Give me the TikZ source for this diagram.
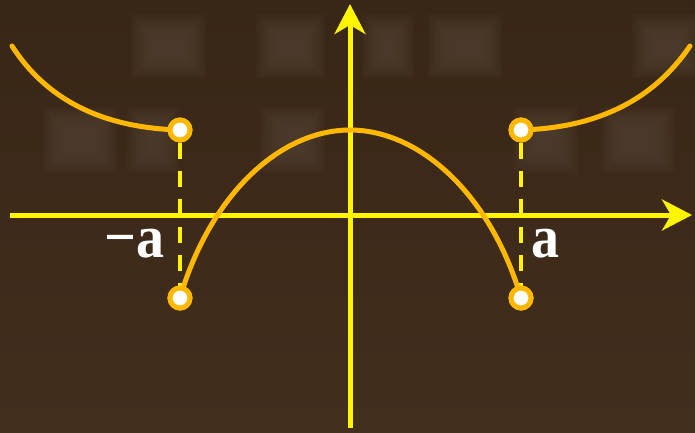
\documentclass[tikz,border=0pt]{standalone}
\usepackage{fontspec}
\setmainfont{Liberation Serif}
\usetikzlibrary{arrows.meta}

\definecolor{bgtop}{RGB}{56,38,22}
\definecolor{bgbot}{RGB}{66,46,29}
\definecolor{blobcol}{RGB}{86,70,56}
\definecolor{axiscol}{RGB}{255,245,0}
\definecolor{curvecol}{RGB}{255,184,0}

\tikzset{
  axis/.style={line width=5pt, color=axiscol, -{Stealth[length=30pt,width=31pt,inset=9pt]}},
  guide/.style={line width=3.5pt, color=axiscol, dash pattern=on 16pt off 12pt},
  curve/.style={line width=5pt, color=curvecol, line cap=round},
  hole/.style={circle, draw=curvecol, fill=white, line width=5pt, minimum size=20pt, inner sep=0pt},
  ticklabel/.style={text=white, font=\fontsize{56}{56}\selectfont\bfseries, inner sep=0pt, yscale=1.08},
}

\begin{document}
\begin{tikzpicture}[x=1pt,y=1pt]
        % background
        \shade[top color=bgtop, bottom color=bgbot] (-350,-217) rectangle (345,215);
        \useasboundingbox (-350,-217) rectangle (345,215);

        % blurred squares behind
        \foreach \xa/\ya/\xb/\yb in {-213/143/-150/195, -88/143/-31/195, 18/143/58/195,
                84/143/146/195, 288/143/345/195, -301/48/-239/102, -217/48/-177/102,
                -84/48/-31/102, 169/48/222/102, 257/48/319/102}
          \foreach \k in {-6,-3,0,3,6,9,12,15}
            \fill[blobcol, fill opacity=0.13] (\xa+\k,\ya+\k) rectangle (\xb-\k,\yb-\k);

        % axes
        \coordinate (xl) at (-340,0);
        \coordinate (xr) at (342,0);
        \coordinate (yb) at (0,-213);
        \coordinate (yt) at (0,211);
        \draw[axis] (xl) -- (xr);
        \draw[axis] (yb) -- (yt);

        % open ends
        \node[hole] (ul) at (-170,85) {};
        \node[hole] (ll) at (-170,-83) {};
        \node[hole] (ur) at (171,85) {};
        \node[hole] (lr) at (171,-83) {};

        % dashed guides
        \draw[guide] (ul) -- (ll);
        \draw[guide] (ur) -- (lr);

        % outer branches
        \draw[curve] (-338,169) .. controls (-300,110) and (-240,87) .. (ul.center);
        \draw[curve] (ur.center) .. controls (240,87) and (300,110) .. (340,169);

        % middle branch
        \coordinate (top) at (0,85);
        \draw[curve] (ll.center) .. controls (-140,20) and (-70,85) .. (top)
                     .. controls (70,85) and (141,20) .. (lr.center);

        % redraw holes on top
        \foreach \p in {ul,ll,ur,lr}
          \node[hole] at (\p) {};

        % labels
        \node[ticklabel, anchor=base east] (ma) at (-185,-42) {−a};
        \node[ticklabel, anchor=base west] (pa) at (181,-42) {a};

\end{tikzpicture}
\end{document}
